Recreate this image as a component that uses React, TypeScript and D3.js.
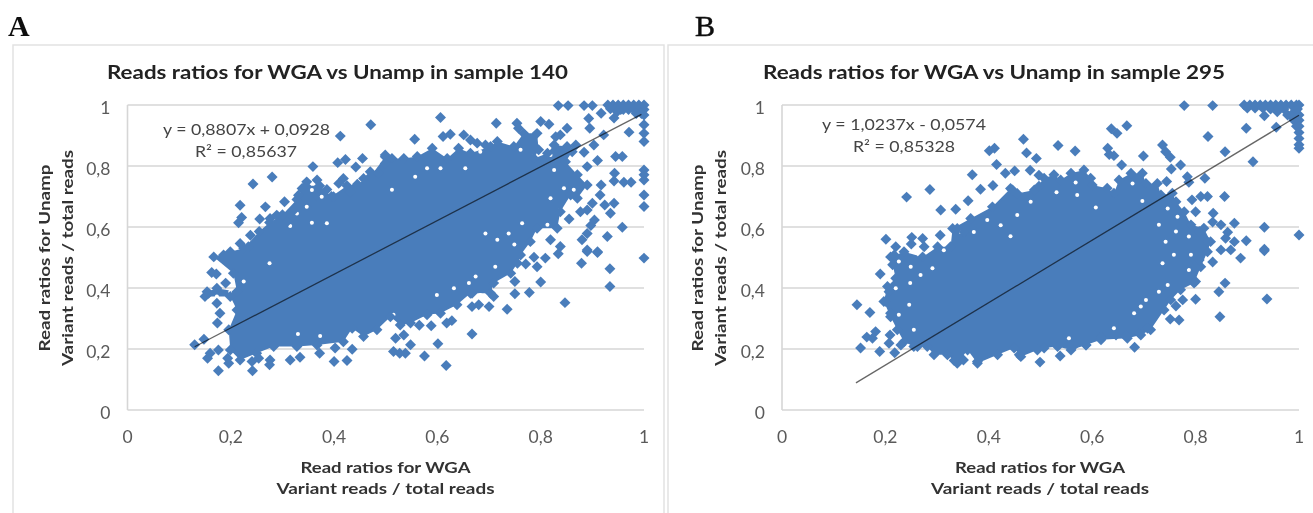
import React from 'react';
import * as d3 from 'd3';

const width = 1313;
const height = 513;

const tickValues = [0, 0.2, 0.4, 0.6, 0.8, 1];
const tickLabels = ['0', '0,2', '0,4', '0,6', '0,8', '1'];

// the middle of each cloud is solid colour and single reads can't be told apart,
// so it is kept as an outline; each outline vertex also gets a marker,
// every mark around it is its own point, and the gaps are the white specks left between marks
const coreA: [number, number][] = [
  [.167, .502], [.199, .519], [.225, .530], [.255, .585], [.275, .615], [.300, .640], [.328, .690], [.345, .735],
  [.372, .735], [.395, .700], [.425, .735], [.445, .740], [.470, .765], [.499, .830], [.512, .825], [.535, .825], [.561, .831], [.590, .858],
  [.619, .825], [.641, .858], [.664, .842], [.703, .864], [.716, .880], [.748, .864], [.767, .907], [.793, .907],
  [.796, .853], [.787, .825], [.813, .842], [.826, .869], [.851, .864], [.861, .847], [.848, .814], [.871, .771],
  [.890, .738], [.871, .694], [.858, .705], [.838, .650], [.832, .596], [.793, .596], [.780, .552], [.761, .508],
  [.755, .481], [.742, .448], [.709, .416], [.703, .383], [.664, .383], [.638, .345], [.606, .317], [.580, .312],
  [.548, .285], [.528, .279], [.509, .306], [.483, .263], [.457, .241], [.435, .268], [.418, .224], [.367, .213],
  [.328, .208], [.283, .208], [.250, .186], [.218, .164], [.199, .197], [.196, .263], [.212, .328], [.199, .372],
  [.150, .372], [.154, .388], [.173, .399], [.212, .388], [.205, .448],
];

const pointsA: [number, number][] = [
  [.471, .935], [.412, .898], [.359, .798], [.407, .811], [.422, .821], [.455, .825], [.442, .797], [.280, .764],
  [.243, .741], [.218, .671], [.267, .666], [.221, .631], [.215, .614], [.256, .626], [.304, .683], [.218, .546],
  [.238, .573], [.367, .754], [.347, .748], [.338, .726], [.331, .704], [.386, .723], [.418, .759], [.409, .743],
  [.470, .781], [.457, .759], [.486, .776], [.357, .683], [.322, .655], [.289, .639], [.276, .628], [.309, .617],
  [.399, .699], [.431, .715], [.499, .836], [.499, .808], [.186, .508], [.234, .535],
  [.606, .959], [.556, .888], [.611, .897], [.625, .904], [.714, .940], [.754, .940], [.757, .924], [.800, .946],
  [.816, .937], [.834, .998], [.853, .998], [.884, .998], [.900, .998], [.917, .973], [.893, .956], [.895, .924],
  [.930, 1], [.940, 1], [.950, 1], [.960, 1], [.970, 1], [.980, 1], [.990, 1], [1, 1],
  [.935, .988], [.945, .988], [.955, .985], [.960, .985], [.970, .985], [.980, .985], [.990, .985], [1, .985],
  [.985, .972], [.995, .972], [.942, .957], [.948, .978], [.971, .911],
  [1, .907], [1, .880], [1, .967], [1, .935], [.922, .902], [.903, .869], [.884, .845], [.910, .818], [.890, .798],
  [.945, .831], [.958, .831], [.943, .776], [.942, .751], [.961, .747], [.975, .747], [1, .787], [1, .771], [1, .754],
  [1, .705], [1, .667], [.917, .738], [.915, .705], [.924, .672], [.942, .678], [.935, .645], [.900, .678],
  [.890, .656], [.877, .650], [.904, .623], [.897, .605], [.958, .599], [.929, .569], [.890, .579], [.880, .558],
  [.855, .626], [.890, .525], [.910, .519], [.838, .536], [.819, .558], [.851, .924], [.838, .902], [.829, .896],
  [.868, .869], [.651, .902], [.664, .885], [.677, .875], [.693, .869],
  [1, .498], [.934, .463], [.934, .405], [.879, .481], [.890, .520], [.910, .516], [.834, .512], [.809, .498],
  [.793, .470], [.771, .479], [.787, .501], [.800, .420], [.778, .385], [.847, .352], [.750, .421], [.750, .381],
  [.735, .330], [.700, .339], [.709, .372], [.667, .339], [.680, .345], [.667, .383], [.628, .293], [.618, .285],
  [.588, .276], [.565, .278], [.667, .249], [.601, .217], [.548, .214], [.575, .177], [.617, .146], [.515, .192],
  [.538, .186], [.527, .186], [.519, .235], [.535, .246],
  [.425, .162], [.400, .159], [.372, .186], [.435, .199], [.402, .203], [.334, .173], [.315, .164], [.276, .164],
  [.275, .148], [.242, .129], [.241, .159], [.254, .170], [.196, .153], [.194, .170], [.176, .129], [.155, .170],
  [.160, .186], [.176, .197], [.130, .214], [.148, .232], [.174, .285], [.179, .317], [.163, .451], [.172, .446],
  [.190, .416], [.157, .383], [.173, .350],
];

const gapsA: [number, number][] = [
  [.357, .721], [.376, .699], [.347, .666], [.431, .743], [.357, .614], [.386, .612], [.315, .603], [.328, .644],
  [.606, .793], [.580, .793], [.557, .765], [.654, .793], [.512, .722], [.683, .847], [.761, .853], [.819, .836],
  [.848, .809], [.826, .787], [.864, .722], [.845, .727], [.819, .694], [.764, .612], [.716, .558], [.749, .543],
  [.738, .579], [.693, .579], [.813, .607], [.838, .656], [.787, .831],
  [.196, .449], [.225, .421], [.199, .388], [.198, .317], [.183, .239], [.330, .249], [.275, .481], [.373, .243],
  [.173, .372], [.674, .438], [.712, .470], [.515, .312], [.599, .377], [.632, .399], [.683, .377], [.690, .339],
  [.661, .416],
];

const coreB: [number, number][] = [
  [.210, .502], [.236, .519], [.272, .502], [.301, .535], [.326, .535], [.330, .595], [.365, .628], [.407, .666],
  [.442, .726], [.455, .710], [.488, .721], [.507, .760], [.526, .771], [.539, .754], [.559, .776], [.584, .787],
  [.597, .760], [.600, .738], [.629, .727], [.642, .711], [.652, .754], [.675, .776], [.697, .776], [.704, .743],
  [.726, .743], [.733, .705], [.755, .711], [.762, .683], [.778, .650], [.791, .607], [.816, .596], [.829, .552],
  [.823, .519], [.810, .470], [.797, .416], [.771, .394], [.752, .361], [.739, .328], [.713, .263], [.694, .246],
  [.668, .235], [.617, .230], [.588, .213], [.559, .197], [.533, .208], [.507, .203], [.494, .197], [.462, .175],
  [.449, .203], [.417, .181], [.378, .153], [.359, .197], [.339, .153], [.320, .181], [.294, .181], [.281, .208],
  [.255, .208], [.236, .224], [.223, .263], [.210, .306], [.197, .356], [.204, .405], [.220, .432], [.214, .476],
];

const pointsB: [number, number][] = [
  [.467, .888], [.473, .843], [.492, .825], [.411, .858], [.401, .850], [.415, .805], [.432, .776], [.450, .784],
  [.480, .786], [.368, .771], [.286, .723], [.241, .698], [.384, .724], [.408, .736], [.307, .656], [.336, .658],
  [.360, .686], [.201, .560], [.220, .535], [.251, .566], [.250, .544], [.272, .562], [.275, .535], [.306, .573],
  [.217, .508], [.497, .770], [.497, .734], [.446, .721], [.352, .584], [.339, .595],
  [.778, .998], [.833, .998], [.894, 1], [.905, 1], [.915, 1], [.925, 1], [.935, 1], [.945, 1], [.955, 1], [.965, 1],
  [.975, 1], [.985, 1], [.995, 1], [1, 1], [.900, .990], [.915, .990], [.930, .990], [.958, .978], [.978, .967],
  [.991, .978], [.945, .987], [.971, .987], [.960, .990], [.985, .965], [.990, .950], [.995, .930],
  [.997, .987], [1, .967], [1, .950], [1, .930], [1, .910], [1, .890], [1, .870], [1, .858], [.933, .965],
  [.898, .924], [.956, .927], [.824, .897], [.857, .847], [.911, .814], [.637, .922], [.648, .907], [.667, .932],
  [.534, .867], [.567, .849], [.630, .858], [.633, .838], [.642, .834], [.699, .833], [.736, .869], [.742, .847],
  [.751, .829], [.657, .803], [.771, .803], [.753, .790], [.784, .765], [.787, .747], [.818, .760], [.744, .749],
  [.856, .700], [.810, .700], [.823, .700], [.793, .689], [.800, .650], [.834, .645], [.833, .616], [.849, .607],
  [.875, .612], [.933, .599], [1, .574], [.898, .555], [.862, .583], [.875, .552], [.858, .563], [.933, .527],
  [.849, .525], [.868, .525], [.823, .552], [.807, .585],
  [.887, .498], [.933, .522], [.833, .485], [.800, .421], [.800, .363], [.857, .416], [.845, .388], [.938, .364],
  [.847, .306], [.768, .295], [.751, .298], [.682, .206], [.775, .361], [.762, .341], [.707, .268], [.691, .252],
  [.665, .244], [.646, .246], [.617, .239], [.588, .213], [.564, .210], [.538, .177], [.807, .492], [.784, .481],
  [.499, .157], [.378, .159], [.333, .162], [.351, .164], [.459, .181], [.190, .446], [.145, .345], [.170, .320],
  [.181, .257], [.164, .239], [.175, .235], [.152, .203], [.189, .192], [.218, .188], [.209, .246], [.207, .219],
  [.230, .213], [.207, .388], [.201, .356], [.210, .317], [.262, .208],
];

const gapsB: [number, number][] = [
  [.397, .623], [.423, .606], [.455, .639], [.481, .683], [.371, .584], [.346, .584], [.442, .570], [.313, .524],
  [.531, .714], [.568, .746], [.571, .705], [.607, .664], [.678, .743], [.697, .685], [.746, .661], [.729, .607],
  [.765, .634], [.762, .585], [.787, .569], [.742, .552], [.804, .634],
  [.248, .416], [.226, .312], [.246, .345], [.268, .443], [.291, .465], [.249, .470], [.255, .263], [.226, .487],
  [.265, .509], [.220, .399],
  [.736, .481], [.787, .459], [.746, .410], [.729, .388], [.694, .339], [.704, .361], [.681, .317], [.791, .509],
  [.758, .509], [.642, .268], [.555, .235],
];

const blue = '#4a7dbb';
const gridColor = '#d6d6d6';
const tickColor = '#5a5a5a';
const sans = 'Lato, "Open Sans", sans-serif';

type PanelProps = {
  letter: string;
  letterX: number;
  letterStroke: number;
  letterWeight: string;
  frameX: number;
  frameW: number;
  x0: number;
  x1: number;
  title: string;
  titleX: number;
  titleW: number;
  core: [number, number][];
  points: [number, number][];
  gaps: [number, number][];
  slope: number;
  intercept: number;
  trendFrom: number;
  trendTo: number;
  eq: string;
  eqX: number;
  eqW: number;
  eqY: number;
  r2: string;
  r2X: number;
  r2W: number;
  yTitleX: number;
  xTitleCx: number;
};

const diamond = d3.symbol().type(d3.symbolSquare).size(60);

function Panel(p: PanelProps) {
  const x = d3.scaleLinear().domain([0, 1]).range([p.x0, p.x1]);
  const y = d3.scaleLinear().domain([0, 1]).range([410, 105]);
  const outline = d3
    .line<[number, number]>()
    .x(d => x(d[0]))
    .y(d => y(d[1]))
    .curve(d3.curveLinearClosed);
  const trend = (v: number) => p.slope * v + p.intercept;

  return (
    <g>
      <text x={p.letterX} y={36} fontFamily='"Liberation Serif", serif' fontSize={30} fontWeight={p.letterWeight} fill="#111" stroke="#111" strokeWidth={p.letterStroke}>
        {p.letter}
      </text>
      <rect x={p.frameX} y={45} width={p.frameW} height={500} fill="#fff" stroke="#e2e2e2" strokeWidth={1.5} />
      <text x={p.titleX} y={79} fontFamily={sans} fontSize={18} fontWeight="bold" fill="#222" textLength={p.titleW} lengthAdjust="spacingAndGlyphs">
        {p.title}
      </text>

      {tickValues.map((t, i) => (
        <g key={t}>
          <line x1={x(0)} x2={x(1)} y1={y(t)} y2={y(t)} stroke={gridColor} strokeWidth={1.6} />
          <text x={x(0) - 17} y={y(t) + 9} textAnchor="end" fontFamily={sans} fontSize={17.5} fill={tickColor}>
            {tickLabels[i]}
          </text>
          <text x={x(t)} y={443} textAnchor="middle" fontFamily={sans} fontSize={17.5} fill={tickColor}>
            {tickLabels[i]}
          </text>
        </g>
      ))}
      <line x1={x(0)} x2={x(0)} y1={y(1)} y2={y(0)} stroke={gridColor} strokeWidth={1.6} />

      <path d={outline(p.core) ?? undefined} fill={blue} />
      {p.gaps.map((d, i) => (
        <circle key={i} cx={x(d[0])} cy={y(d[1])} r={2} fill="#fff" />
      ))}
      {[...p.core, ...p.points].map((d, i) => (
        <path key={i} d={diamond() ?? undefined} transform={`translate(${x(d[0])},${y(d[1])}) rotate(45)`} fill={blue} />
      ))}
      <line
        x1={x(p.trendFrom)}
        y1={y(trend(p.trendFrom))}
        x2={x(p.trendTo)}
        y2={y(trend(p.trendTo))}
        stroke="#000"
        strokeOpacity={0.6}
        strokeWidth={1.3}
      />

      <text x={p.eqX} y={p.eqY} fontFamily={sans} fontSize={15} fill="#444" textLength={p.eqW} lengthAdjust="spacingAndGlyphs">
        {p.eq}
      </text>
      <text x={p.r2X} y={p.eqY + 22} fontFamily={sans} fontSize={15} fill="#444" textLength={p.r2W} lengthAdjust="spacingAndGlyphs">
        {p.r2}
      </text>

      <g fontFamily={sans} fontSize={15.5} fontWeight="bold" fill="#333" textAnchor="middle">
        <text x={p.xTitleCx} y={473} textLength={170} lengthAdjust="spacingAndGlyphs">Read ratios for WGA</text>
        <text x={p.xTitleCx} y={494} textLength={218} lengthAdjust="spacingAndGlyphs">Variant reads / total reads</text>
        <text transform={`translate(${p.yTitleX},258) rotate(-90)`} textLength={187} lengthAdjust="spacingAndGlyphs">Read ratios for Unamp</text>
        <text transform={`translate(${p.yTitleX + 23},258) rotate(-90)`} textLength={216} lengthAdjust="spacingAndGlyphs">Variant reads / total reads</text>
      </g>
    </g>
  );
}

export default function App() {
  return (
    <svg width={width} height={height} style={{ position: 'absolute', left: 0, top: 0, display: 'block' }}>
      <defs>
        <filter id="soft" x="0" y="0" width="100%" height="100%">
          <feGaussianBlur stdDeviation="0.55" />
        </filter>
      </defs>
      <rect width={width} height={height} fill="#fff" />
      <g filter="url(#soft)">
        <Panel
          letter="A" letterX={8} letterStroke={0} letterWeight="bold" frameX={13} frameW={651} x0={127.5} x1={644}
          title="Reads ratios for WGA vs Unamp in sample 140" titleX={107} titleW={461}
          core={coreA} points={pointsA} gaps={gapsA} slope={0.8807} intercept={0.0928} trendFrom={0.13} trendTo={0.995}
          eq="y = 0,8807x + 0,0928" eqX={163} eqW={167} eqY={135}
          r2="R² = 0,85637" r2X={195} r2W={102}
          yTitleX={50} xTitleCx={385.5}
        />
        <Panel
          letter="B" letterX={695} letterStroke={0.5} letterWeight="normal" frameX={668} frameW={660} x0={782} x1={1299}
          title="Reads ratios for WGA vs Unamp in sample 295" titleX={763} titleW={462}
          core={coreB} points={pointsB} gaps={gapsB} slope={1.0237} intercept={-0.0574} trendFrom={0.143} trendTo={1}
          eq="y = 1,0237x - 0,0574" eqX={822} eqW={164} eqY={130}
          r2="R² = 0,85328" r2X={853} r2W={102}
          yTitleX={703} xTitleCx={1040}
        />
      </g>
    </svg>
  );
}
